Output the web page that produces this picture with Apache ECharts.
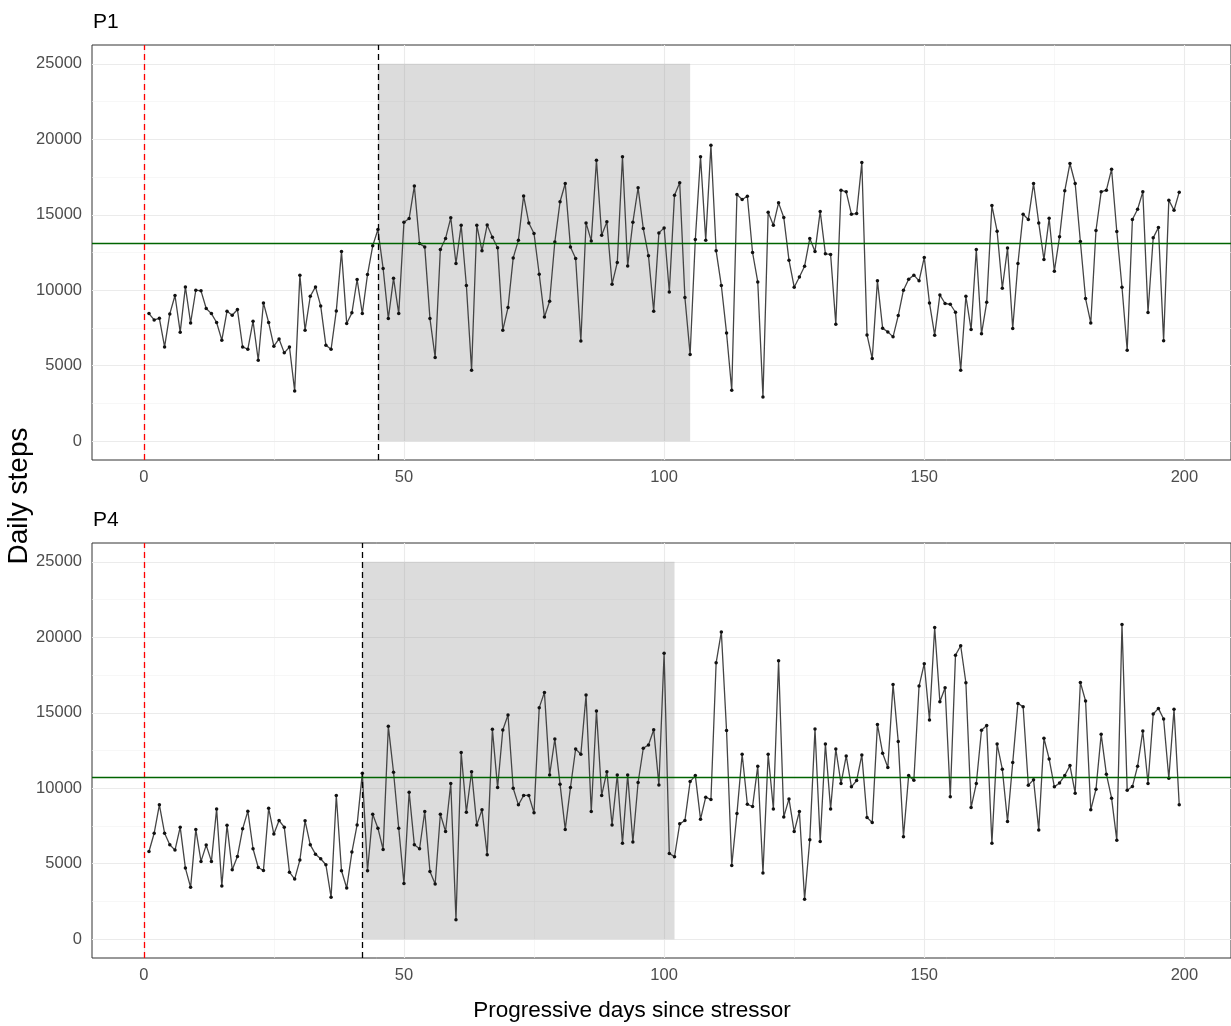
<!DOCTYPE html>
<html>
<head>
<meta charset="utf-8">
<title>Daily steps</title>
<script src="https://cdn.jsdelivr.net/npm/echarts@6/dist/echarts.min.js"></script>
<style>
  html, body { margin: 0; padding: 0; background: #fff; }
  #chart { width: 1231px; height: 1026px; }
</style>
</head>
<body>
<div id="chart"></div>
<script>
// panel names
const panelNames = ['P1', 'P4']

// daily steps, days 1..199
const p1Steps = [
  8450, 8030, 8140, 6240, 8430, 9650, 7220, 10220, 7830, 10000,
  9960, 8790, 8450, 7860, 6690, 8610, 8340, 8720, 6240, 6090,
  7950, 5360, 9160, 7860, 6290, 6770, 5850, 6240, 3330, 11000,
  7350, 9600, 10220, 8960, 6350, 6090, 8630, 12560, 7790, 8500,
  10710, 8450, 11040, 12940, 14020, 11440, 8120, 10800, 8450, 14510,
  14750, 16900, 13090, 12870, 8120, 5540, 12700, 13430, 14800, 11770,
  14310, 10310, 4700, 14310, 12610, 14330, 13510, 12810, 7350, 8850,
  12140, 13320, 16250, 14460, 13760, 11060, 8230, 9270, 13200, 15860,
  17070, 12870, 12100, 6640, 14460, 13270, 18620, 13650, 14530, 10400,
  11830, 18840, 11610, 14510, 16790, 14090, 12280, 8610, 13800, 14130,
  9890, 16300, 17120, 9510, 5740, 13360, 18840, 13320, 19610, 12610,
  10310, 7170, 3370, 16340, 16010, 16230, 12500, 10550, 2930, 15170,
  14310, 15790, 14820, 11990, 10200, 10880, 11590, 13430, 12560, 15220,
  12410, 12370, 7750, 16630, 16520, 15040, 15080, 18460, 7040, 5470,
  10620, 7480, 7240, 6910, 8320, 10000, 10730, 11000, 10620, 12170,
  9160, 7020, 9690, 9120, 9070, 8540, 4700, 9600, 7390, 12700,
  7110, 9200, 15610, 13910, 10130, 12790, 7460, 11770, 15040, 14690,
  17070, 14460, 12030, 14770, 11260, 13540, 16590, 18400, 17070, 13230,
  9450, 7830, 13960, 16520, 16630, 18020, 13890, 10200, 6020, 14690,
  15370, 16520, 8520, 13470, 14160, 6660, 15970, 15300, 16500
]

const p4Steps = [
  5810, 7020, 8900, 7020, 6250, 5900, 7420, 4710, 3430, 7270,
  5150, 6230, 5150, 8630, 3520, 7550, 4600, 5480, 7310, 8480,
  5990, 4750, 4550, 8680, 6960, 7860, 7420, 4440, 3980, 5240,
  7840, 6250, 5630, 5330, 4930, 2770, 9520, 4530, 3390, 5770,
  7570, 11000, 4530, 8280, 7350, 5940, 14100, 11060, 7350, 3690,
  9740, 6250, 5990, 8460, 4490, 3650, 8280, 7130, 10310, 1290,
  12360, 8410, 11100, 7570, 8570, 5590, 13900, 10040, 13860, 14850,
  10000, 8900, 9520, 9520, 8370, 15340, 16350, 10880, 13260, 10270,
  7270, 10040, 12600, 12250, 16170, 8460, 15120, 9520, 11100, 7570,
  10880, 6360, 10880, 6430, 10380, 12650, 12870, 13880, 10220, 18950,
  5680, 5460, 7640, 7860, 10440, 10840, 7950, 9410, 9250, 18310,
  20360, 13820, 4880, 8320, 12250, 8940, 8790, 11460, 4380, 12250,
  8630, 18450, 8100, 9290, 7130, 8460, 2640, 6580, 13930, 6470,
  12930, 8630, 12600, 10310, 12140, 10090, 10510, 12210, 8060, 7730,
  14230, 12320, 11370, 16880, 13090, 6780, 10840, 10530, 16770, 18250,
  14520, 20650, 15730, 16660, 9430, 18820, 19440, 16990, 8720, 10310,
  13840, 14150, 6360, 12930, 11260, 7800, 11700, 15620, 15400, 10200,
  10570, 7240, 13310, 11940, 10090, 10350, 10840, 11500, 9670, 17010,
  15780, 8570, 9930, 13570, 10930, 9340, 6560, 20850, 9870, 10110,
  11460, 13790, 10310, 14920, 15290, 14590, 10660, 15230, 8900
]

// vertical markers and shaded window (days)
const stressorDay = [0, 0]
const startDay = [45, 42]
const windowEnd = [105, 102]
const windowTop = [25000, 25000]
// horizontal green reference
const referenceSteps = [13100, 10750]

// tick labels / gridlines
const xMajor = [0, 50, 100, 150, 200]
const xMinor = [25, 75, 125, 175]
const yMajor = [0, 5000, 10000, 15000, 20000, 25000]
const yMinor = [2500, 7500, 12500, 17500, 22500]

const FONT = 'Liberation Sans, Arial, sans-serif'
const gridTops = [45, 543]
const gridHeight = 415

function toPoints(steps) {
  return steps.map((v, i) => [i + 1, v])
}

function gridLines(majors, minors, key) {
  let items = []
  minors.forEach(v => items.push({[key]: v, lineStyle: {color: '#f2f2f2', width: 0.6, type: 'solid'}}))
  majors.forEach(v => items.push({[key]: v, lineStyle: {color: '#ebebeb', width: 1.1, type: 'solid'}}))
  return items
}

let grids = [], xAxes = [], yAxes = [], series = [], titles = []

panelNames.forEach((name, k) => {
  grids.push({
    left: 92, width: 1139, top: gridTops[k], height: gridHeight,
    show: true, borderColor: '#333333', borderWidth: 1, backgroundColor: '#ffffff'
  })
  titles.push({
    text: name, left: 88, top: gridTops[k] - 38,
    textStyle: {fontFamily: FONT, fontSize: 21, fontWeight: 'normal', color: '#000'}
  })
  xAxes.push({
    gridIndex: k, type: 'value', min: -9.95, max: 208.95,
    axisLine: {show: false},
    axisTick: {show: true, length: 4, lineStyle: {color: '#333'}, customValues: xMajor},
    axisLabel: {color: '#4d4d4d', fontSize: 16.5, fontFamily: FONT, margin: 9, customValues: xMajor,
      formatter: v => String(v)},
    splitLine: {show: false}
  })
  yAxes.push({
    gridIndex: k, type: 'value', min: -1250, max: 26250,
    axisLine: {show: false},
    axisTick: {show: true, length: 4, lineStyle: {color: '#333'}, customValues: yMajor},
    axisLabel: {color: '#4d4d4d', fontSize: 16.5, fontFamily: FONT, margin: 10, customValues: yMajor,
      formatter: v => String(v)},
    splitLine: {show: false}
  })

  // panel gridlines (under everything)
  series.push({
    type: 'line', xAxisIndex: k, yAxisIndex: k, data: [], silent: true,
    markLine: {
      z: 1, silent: true, symbol: 'none', label: {show: false}, animation: false,
      data: gridLines(xMajor, xMinor, 'xAxis').concat(gridLines(yMajor, yMinor, 'yAxis'))
    }
  })
  // shaded window
  series.push({
    type: 'line', xAxisIndex: k, yAxisIndex: k, data: [], silent: true,
    markArea: {
      z: 1.5, silent: true,
      itemStyle: {color: 'rgba(150,150,150,0.33)'},
      data: [[{xAxis: startDay[k], yAxis: 0}, {xAxis: windowEnd[k], yAxis: windowTop[k]}]]
    }
  })
  // daily steps
  series.push({
    name: name, type: 'line', xAxisIndex: k, yAxisIndex: k, z: 3,
    data: toPoints(k === 0 ? p1Steps : p4Steps),
    symbol: 'circle', symbolSize: 3.5, showSymbol: true,
    itemStyle: {color: '#111', borderWidth: 0},
    lineStyle: {color: '#444', width: 1.3}
  })
  // markers
  series.push({
    type: 'line', xAxisIndex: k, yAxisIndex: k, data: [], silent: true,
    markLine: {
      z: 4, silent: true, symbol: 'none', label: {show: false}, animation: false,
      data: [
        {xAxis: stressorDay[k], lineStyle: {color: '#ff0000', width: 1.3, type: [6, 4]}},
        {xAxis: startDay[k], lineStyle: {color: '#000', width: 1.3, type: [6, 4]}},
        {yAxis: referenceSteps[k], lineStyle: {color: '#006400', width: 1.3, type: 'solid'}}
      ]
    }
  })
})

let chart = echarts.init(document.getElementById('chart'))
chart.setOption({
  animation: false,
  backgroundColor: '#ffffff',
  title: titles,
  grid: grids,
  xAxis: xAxes,
  yAxis: yAxes,
  series: series,
  graphic: [
    {
      type: 'text', x: 19, y: 496, rotation: Math.PI / 2,
      style: {text: 'Daily steps', fontSize: 28, fontFamily: FONT, fill: '#000', align: 'center', verticalAlign: 'middle'}
    },
    {
      type: 'text', x: 632, y: 1011,
      style: {text: 'Progressive days since stressor', fontSize: 22.5, fontFamily: FONT, fill: '#000', align: 'center', verticalAlign: 'middle'}
    }
  ]
})
</script>
</body>
</html>
